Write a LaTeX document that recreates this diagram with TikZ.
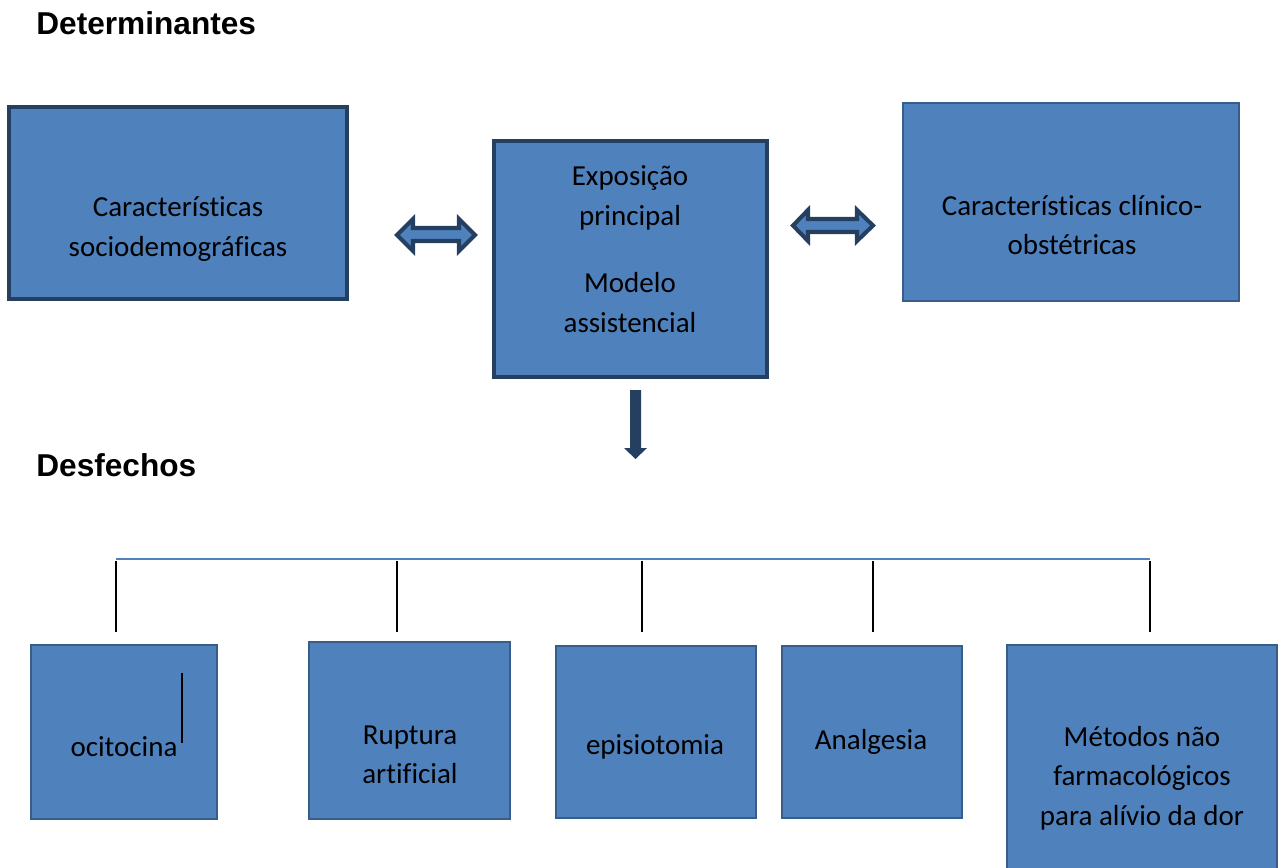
\documentclass[tikz,border=0pt]{standalone}
\usepackage{fontspec}
\setmainfont{Carlito}[Ligatures=NoCommon]
\newfontfamily\headfont{Liberation Sans}
\usetikzlibrary{positioning}

\definecolor{boxblue}{HTML}{4F81BD}
\definecolor{edgeblue}{HTML}{385D8A}
\definecolor{darkblue}{HTML}{243F60}

\tikzset{
  box/.style={draw=edgeblue, fill=boxblue, line width=1.1pt, inner sep=0pt},
  bigbox/.style={box, draw=darkblue, line width=2.6pt},
  txt/.style={align=center, inner sep=0pt, font=\fontsize{16.5}{22.5}\selectfont},
  heading/.style={anchor=west, inner sep=0pt, font=\headfont\bfseries\fontsize{18}{21}\selectfont},
  blockarrow/.style={draw=darkblue, fill=boxblue, line width=2.3pt, line join=miter},
  tree/.style={black, line width=0.85pt},
}

\begin{document}
\begin{tikzpicture}[x=0.02cm, y=-0.02cm]
  \useasboundingbox (0,0) rectangle (1283,867);

  % headings
  \node[heading] (hdet) at (36,23) {Determinantes};
  \node[heading] (hdes) at (36,465) {Desfechos};

  % determinants
  \node[bigbox, minimum width=338*0.02cm, minimum height=192*0.02cm] (socio) at (178,203) {};
  \node[bigbox, minimum width=273*0.02cm, minimum height=236*0.02cm] (expo) at (630.5,259) {};
  \node[box, line width=1.4pt, minimum width=336*0.02cm, minimum height=198*0.02cm] (clin) at (1071,202) {};
  \node[txt] (tsocio) at (178,229) {Características\\sociodemográficas};
  \node[txt] (texpo) at (630,249) {Exposição\\principal\\[16pt]Modelo\\assistencial};
  \node[txt] (tclin) at (1072,225) {Características clínico-\\obstétricas};

  % block arrows
  \draw[blockarrow] (397,235) -- (413,219) -- (413,228) -- (459,228) -- (459,219)
    -- (475,235) -- (459,251) -- (459,241) -- (413,241) -- (413,251) -- cycle;
  \draw[blockarrow] (793,225.5) -- (808,210) -- (808,219) -- (857,219) -- (857,210)
    -- (873,225.5) -- (857,241) -- (857,232) -- (808,232) -- (808,241) -- cycle;
  \fill[darkblue] (630,390) -- (641,390) -- (641,448) -- (647,448) -- (635.5,459)
    -- (624,448) -- (630,448) -- cycle;

  % outcome tree
  \coordinate (busL) at (116,559);
  \coordinate (busR) at (1150,559);
  \draw[boxblue, line width=0.9pt] (busL) -- (busR);
  \foreach \x in {116,397,642,873,1150}{
    \draw[tree] (\x,561) -- (\x,632);
  }

  % outcomes
  \node[box, minimum width=186*0.02cm, minimum height=174*0.02cm] (ocito) at (124,732) {};
  \node[box, minimum width=201*0.02cm, minimum height=177*0.02cm] (rupt) at (409.5,730.5) {};
  \node[box, minimum width=200*0.02cm, minimum height=172*0.02cm] (episio) at (656,732) {};
  \node[box, minimum width=180*0.02cm, minimum height=172*0.02cm] (analg) at (872,732) {};
  \node[box, minimum width=270*0.02cm, minimum height=260*0.02cm] (metod) at (1142,775) {};
  \node[txt] (tocito) at (124,747) {ocitocina};
  \draw[tree] (182,673) -- (182,743);
  \node[txt] (trupt) at (410,755) {Ruptura\\artificial};
  \node[txt] (tepisio) at (655,747) {episiotomia};
  \node[txt] (tanalg) at (871,742) {Analgesia};
  \node[txt] (tmetod) at (1142,778) {Métodos não\\farmacológicos\\para alívio da dor};
\end{tikzpicture}
\end{document}
